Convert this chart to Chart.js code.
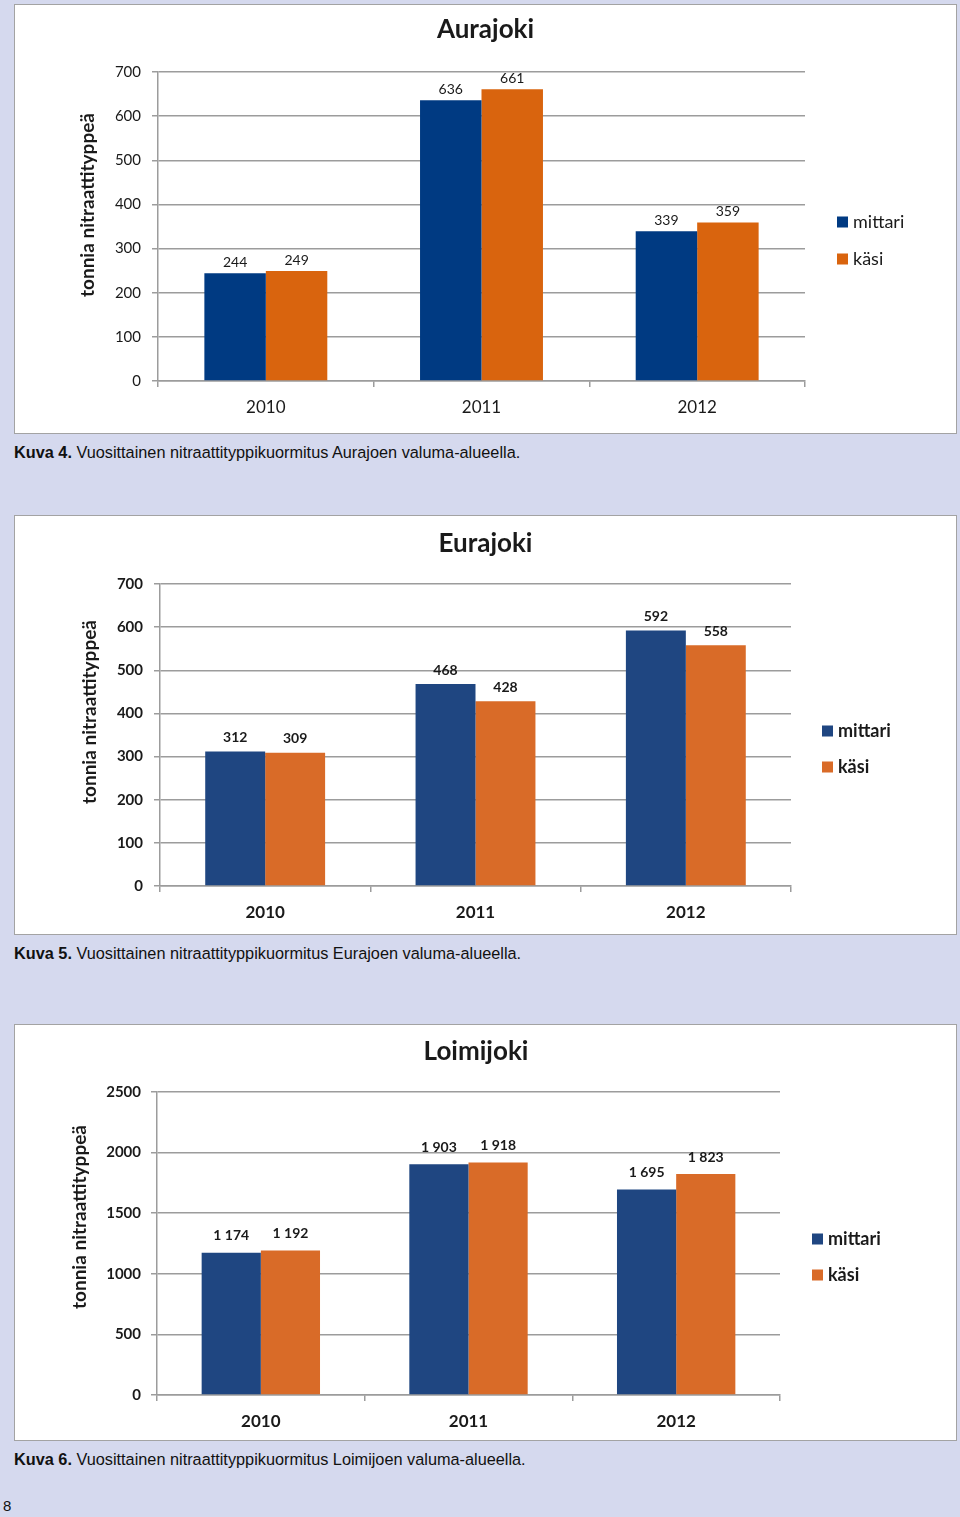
<!DOCTYPE html>
<html>
<head>
<meta charset="utf-8">
<script src="https://cdn.jsdelivr.net/npm/chart.js@4.4.0/dist/chart.umd.min.js"></script>
<style>
  body { margin: 0; width: 960px; height: 1517px; background: #d5d9ee; position: relative; overflow: hidden; font-family: "Liberation Sans", Arial, sans-serif; }
  .panel { position: absolute; left: 14px; width: 941px; background: #fff; border: 1px solid #a3a3a3; }
  .caption { position: absolute; left: 14px; font-size: 16.3px; color: #111; white-space: nowrap; }
  .sivu { position: absolute; left: 3px; top: 1497px; font-size: 15px; color: #111; }
</style>
</head>
<body>
<div class="panel" style="top:4px;height:428px"><canvas id="aurajoki"></canvas></div>
<div class="caption" style="top:443px"><b>Kuva 4.</b> Vuosittainen nitraattityppikuormitus Aurajoen valuma-alueella.</div>

<div class="panel" style="top:515px;height:418px"><canvas id="eurajoki"></canvas></div>
<div class="caption" style="top:944px"><b>Kuva 5.</b> Vuosittainen nitraattityppikuormitus Eurajoen valuma-alueella.</div>

<div class="panel" style="top:1024px;height:415px"><canvas id="loimijoki"></canvas></div>
<div class="caption" style="top:1450px"><b>Kuva 6.</b> Vuosittainen nitraattityppikuormitus Loimijoen valuma-alueella.</div>

<div class="sivu">8</div>

<script>
const vuodet = ['2010', '2011', '2012'];
const sarjat = ['mittari', 'käsi'];
const aurajokiMittari = [244, 636, 339];
const aurajokiKasi = [249, 661, 359];
const eurajokiMittari = [312, 468, 592];
const eurajokiKasi = [309, 428, 558];
const loimijokiMittari = [1174, 1903, 1695];
const loimijokiKasi = [1192, 1918, 1823];
const asteikko700 = [0, 100, 200, 300, 400, 500, 600, 700];
const asteikko2500 = [0, 500, 1000, 1500, 2000, 2500];
const yOtsikko = 'tonnia nitraattityppeä';

function muotoile(v) {
    return String(v).replace(/\B(?=(\d{3})+(?!\d))/g, ' ');
}

// arvot pylväiden päälle
const arvot = {
    id: 'arvot',
    afterDatasetsDraw(chart, args, opts) {
        const ctx = chart.ctx;
        ctx.save();
        ctx.font = opts.font;
        ctx.fillStyle = opts.color;
        ctx.textAlign = 'center';
        ctx.textBaseline = 'middle';
        chart.data.datasets.forEach((ds, i) => {
            chart.getDatasetMeta(i).data.forEach((bar, j) => {
                ctx.fillText(muotoile(ds.data[j]), bar.x, bar.y - opts.offset);
            });
        });
        ctx.restore();
    }
};

// selite oikealle
const selite = {
    id: 'selite',
    afterDraw(chart, args, opts) {
        const {ctx, chartArea} = chart;
        const keski = (chartArea.top + chartArea.bottom) / 2;
        ctx.save();
        ctx.font = opts.font;
        ctx.textBaseline = 'middle';
        chart.data.datasets.forEach((ds, i) => {
            const x = chartArea.right + opts.dx;
            const y = keski + opts.dy + i * opts.gap;
            ctx.fillStyle = ds.backgroundColor;
            ctx.fillRect(x, y - 5.5, 11, 11);
            ctx.fillStyle = opts.color;
            ctx.fillText(ds.label, x + 16, y);
        });
        ctx.restore();
    }
};

// y-akselin otsikko, vähän keskikohdan yläpuolella kuten Excelissä
const yTeksti = {
    id: 'yTeksti',
    afterDraw(chart, args, opts) {
        const {ctx, chartArea} = chart;
        ctx.save();
        ctx.translate(opts.x, (chartArea.top + chartArea.bottom) / 2 + opts.dy);
        ctx.rotate(-Math.PI / 2);
        ctx.font = opts.font;
        ctx.fillStyle = opts.color;
        ctx.textAlign = 'center';
        ctx.textBaseline = 'middle';
        ctx.fillText(opts.text, 0, 0);
        ctx.restore();
    }
};

function teeKaavio(id, nimi, mittari, kasi, asteikko, t) {
    const viiva = '#9c9c9c';
    const paino = t.lihava ? 'bold' : 'normal';
    return new Chart(document.getElementById(id), {
        type: 'bar',
        data: {
            labels: vuodet,
            datasets: [
                { label: sarjat[0], data: mittari, yAxisID: 'y', backgroundColor: t.sininen, borderWidth: 0, categoryPercentage: 0.57, barPercentage: 1 },
                { label: sarjat[1], data: kasi, yAxisID: 'y', backgroundColor: t.oranssi, borderWidth: 0, categoryPercentage: 0.57, barPercentage: 1 }
            ]
        },
        options: {
            responsive: true,
            maintainAspectRatio: false,
            animation: false,
            layout: { padding: { left: 0, right: t.oikea, top: 0, bottom: 0 } },
            plugins: {
                legend: { display: false },
                tooltip: { enabled: false },
                title: {
                    display: true,
                    text: nimi,
                    color: '#1a1a1a',
                    font: { family: 'Lato', size: 26, weight: 'bold' },
                    padding: { top: t.otsYla, bottom: t.otsAla }
                },
                arvot: { font: paino + ' 14px Lato', color: '#1a1a1a', offset: t.arvoVali },
                selite: { font: paino + ' 18px Lato', color: '#1a1a1a', dx: t.seliteX, dy: t.seliteY, gap: t.seliteVali },
                yTeksti: { text: yOtsikko, font: 'bold 19px Lato', color: '#1a1a1a', x: t.yOtsX, dy: t.yOtsDy }
            },
            scales: {
                x: {
                    grid: { display: true, drawOnChartArea: false, drawTicks: true, tickLength: 6, offset: true, color: viiva, lineWidth: 1.5 },
                    border: { display: true, color: viiva, width: 1.5 },
                    ticks: { color: '#1a1a1a', padding: 10, font: { family: 'Lato', size: 17, weight: paino } },
                    afterFit(s) { s.height = t.xKorkeus; }
                },
                y: {
                    min: asteikko[0],
                    max: asteikko[asteikko.length - 1],
                    grid: { color: viiva, lineWidth: 1.5, tickLength: 6 },
                    border: { display: true, color: viiva, width: 1.5 },
                    ticks: {
                        stepSize: asteikko[1] - asteikko[0],
                        color: '#1a1a1a',
                        padding: t.tickVali,
                        font: { family: 'Lato', size: 15, weight: paino },
                        callback: v => String(v)
                    },
                    afterFit(s) { s.width = t.yLeveys; }
                },
                // tyhjä tila selitteelle
                tila: {
                    type: 'linear',
                    position: 'right',
                    display: true,
                    grid: { display: false },
                    border: { display: false },
                    ticks: { display: false },
                    afterFit(s) { s.width = t.tila; }
                }
            }
        },
        plugins: [arvot, selite, yTeksti]
    });
}

teeKaavio('aurajoki', 'Aurajoki', aurajokiMittari, aurajokiKasi, asteikko700, {
    lihava: false, sininen: '#003a82', oranssi: '#d9640e',
    oikea: 0, tila: 151, otsYla: 9.4, otsAla: 26.4, xKorkeus: 52, yLeveys: 143, tickVali: 11,
    yOtsX: 73, yOtsDy: -21.5,
    arvoVali: 11, seliteX: 32, seliteY: -4.5, seliteVali: 37
});

teeKaavio('eurajoki', 'Eurajoki', eurajokiMittari, eurajokiKasi, asteikko700, {
    lihava: true, sininen: '#1f4681', oranssi: '#d96b28',
    oikea: 0, tila: 165, otsYla: 12.4, otsAla: 24.4, xKorkeus: 48, yLeveys: 145, tickVali: 11,
    yOtsX: 75, yOtsDy: -23,
    arvoVali: 14, seliteX: 31, seliteY: -4, seliteVali: 36
});

teeKaavio('loimijoki', 'Loimijoki', loimijokiMittari, loimijokiKasi, asteikko2500, {
    lihava: true, sininen: '#1f4681', oranssi: '#d96b28',
    oikea: 19, tila: 157, otsYla: 11.4, otsAla: 24.4, xKorkeus: 45, yLeveys: 142, tickVali: 10,
    yOtsX: 65, yOtsDy: -26.5,
    arvoVali: 17, seliteX: 32, seliteY: -4.5, seliteVali: 36
});
</script>
</body>
</html>
